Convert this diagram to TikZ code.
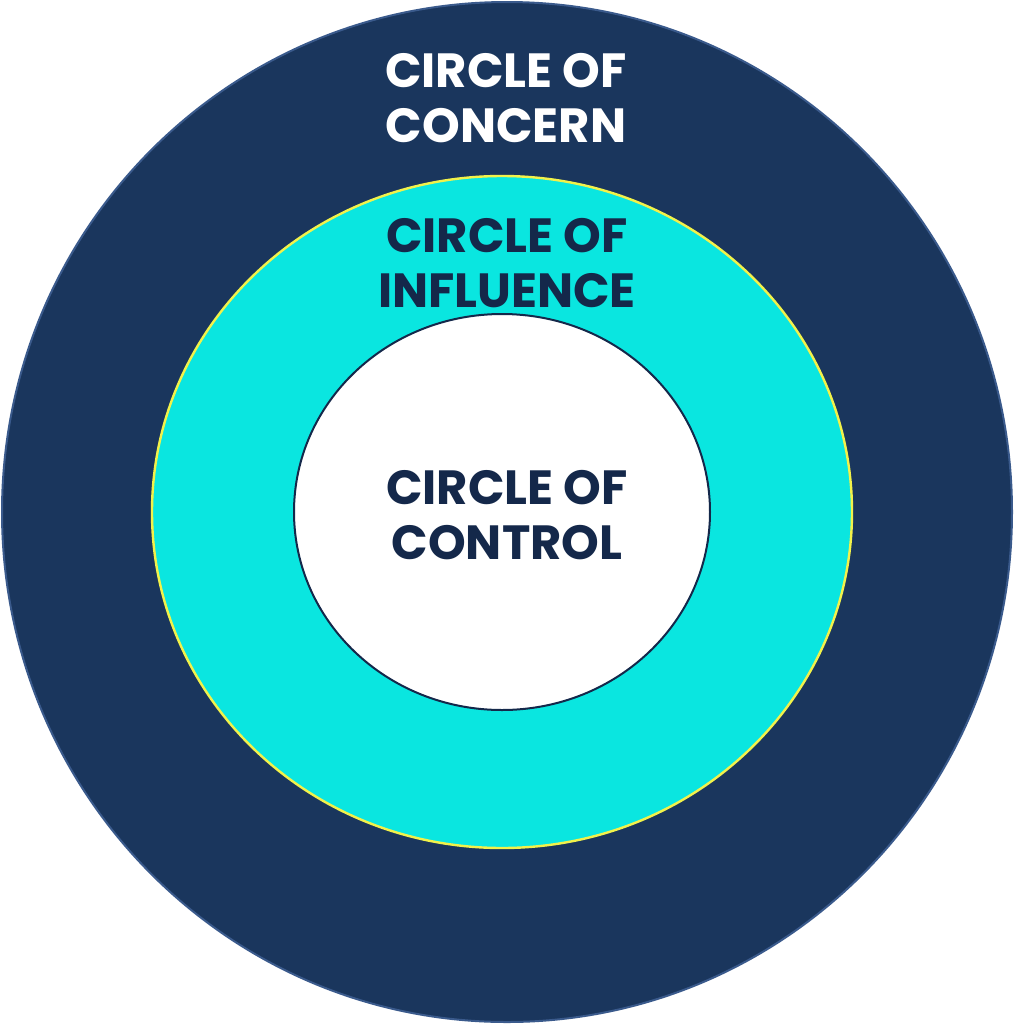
\documentclass[tikz,border=0pt]{standalone}
\usepackage{fontspec}
\setmainfont{Poppins}
\usepackage{xcolor}
\definecolor{navy}{HTML}{1A365D}
\definecolor{navyedge}{HTML}{3A5A8C}
\definecolor{cyanfill}{HTML}{0AE6E0}
\definecolor{ringedge}{HTML}{F2F24A}
\definecolor{darktext}{HTML}{14284A}
\tikzset{label/.style={font=\bfseries\fontsize{24}{27.5}\selectfont, align=center}}
\begin{document}
\begin{tikzpicture}[x=0.5pt, y=-0.5pt]
      \useasboundingbox (0, 0) rectangle (1015, 1024);
      \coordinate (O) at (507, 512);
      \coordinate (M) at (502, 512);
      \filldraw[fill=navy, draw=navyedge, line width=1pt] (O) ellipse (505 and 510);
      \filldraw[fill=cyanfill, draw=ringedge, line width=1.2pt] (M) ellipse (350 and 336);
      \filldraw[fill=white, draw=darktext, line width=1pt] (M) ellipse (208 and 198);
      \node[label, text=white] (concern) at (506, 98) {CIRCLE OF\\CONCERN};
      \node[label, text=darktext] (influence) at (507, 263) {CIRCLE OF\\INFLUENCE};
      \node[label, text=darktext] (control) at (507, 515) {CIRCLE OF\\CONTROL};
    \end{tikzpicture}
\end{document}
